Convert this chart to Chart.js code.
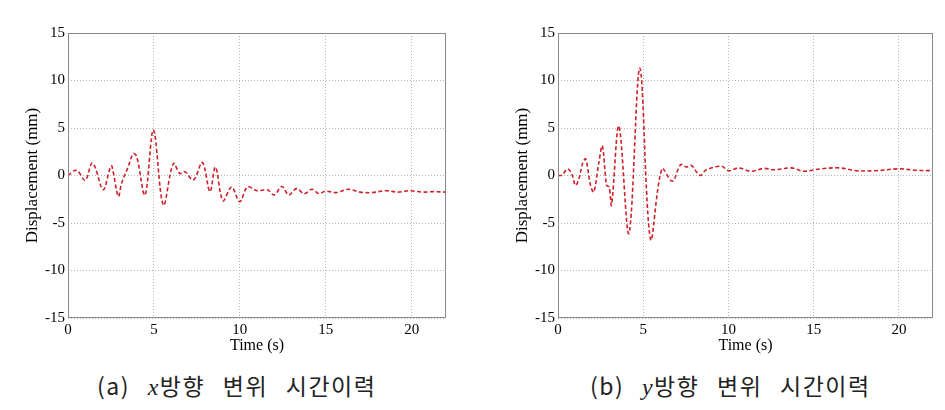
<!DOCTYPE html>
<html>
<head>
<meta charset="utf-8">
<script src="https://cdn.jsdelivr.net/npm/chart.js@4.4.0/dist/chart.umd.min.js"></script>
<style>
body { margin: 0; background: #fff; width: 945px; height: 410px; position: relative; overflow: hidden; }
canvas { position: absolute; top: 0; }
#chartX { left: 0; }
#chartY { left: 490px; }
.cap { position: absolute; top: 368px; font-family: "Noto Sans CJK KR"; font-size: 23px; color: #222; white-space: nowrap; word-spacing: 11px; letter-spacing: 1.5px; }
.cap i { font-family: "Liberation Serif"; font-size: 24px; }
</style>
</head>
<body>
<canvas id="chartX" width="472" height="360"></canvas>
<canvas id="chartY" width="455" height="360"></canvas>
<div class="cap" style="left:97px">(a) <i>x</i>방향 변위 시간이력</div>
<div class="cap" style="left:590px">(b) <i>y</i>방향 변위 시간이력</div>
<script>
// x direction displacement (mm) vs time (s)
var xTime = [0, 0.5, 1.0, 1.38, 1.57, 2.05, 2.44, 2.55, 2.93, 3.12,
             3.5, 3.8, 4.0, 4.48, 4.97, 5.55, 6.13, 6.52, 6.8, 7.3,
             7.82, 8.26, 8.58, 9.02, 9.52, 10.0, 10.45, 11.0, 11.6, 12.0,
             12.45, 12.85, 13.3, 13.75, 14.2, 14.6, 15.0, 15.6, 16.3, 17.0,
             17.7, 18.5, 19.2, 19.9, 20.6, 21.3, 22];
var xDisp = [0, 0.55, -0.5, 1.3, 0.9, -1.5, 0.75, 1.0, -2.2, -0.8,
             0.9, 2.3, 2.0, -2.05, 4.8, -3.1, 1.25, 0.2, 0.4, -0.47,
             1.37, -1.7, 0.88, -2.65, -1.22, -2.75, -1.2, -1.6, -1.5, -2.05,
             -1.15, -2.05, -1.38, -1.92, -1.45, -1.9, -1.65, -1.8, -1.45, -1.75,
             -1.8, -1.6, -1.75, -1.6, -1.75, -1.7, -1.75];

// y direction
var yTime = [0, 0.25, 0.55, 0.8, 1.03, 1.25, 1.43, 1.62, 1.91, 2.1,
             2.4, 2.6, 2.85, 3.0, 3.14, 3.57, 4.16, 4.8, 5.43, 6.1,
             6.7, 7.2, 7.54, 7.83, 8.33, 8.7, 9.6, 10.0, 10.6, 11.3,
             12.1, 12.7, 13.7, 14.4, 15.4, 16.5, 17.5, 18.6, 20.0, 21.0, 22];
var yDisp = [0, 0.05, 0.7, 0.2, -1.05, -0.2, 1.2, 1.75, -1.05, -1.75,
             1.4, 3.1, -1.05, -1.2, -3.1, 5.2, -6.1, 11.3, -6.7, 0.7,
             -0.6, 1.15, 0.9, 1.05, 0, 0.6, 0.97, 0.5, 0.8, 0.45,
             0.75, 0.6, 0.8, 0.45, 0.7, 0.8, 0.5, 0.5, 0.7, 0.55, 0.5];

var xTicks = [0, 5, 10, 15, 20];
var yTicks = [-15, -10, -5, 0, 5, 10, 15];

var serif = 'Liberation Serif';

// grey box round the plot area, like matlab
var boxPlugin = {
    id: 'box',
    afterDraw: function (chart) {
        var a = chart.chartArea;
        var ctx = chart.ctx;
        ctx.save();
        ctx.strokeStyle = '#8a8a8a';
        ctx.lineWidth = 1;
        ctx.strokeRect(Math.round(a.left) + 0.5, Math.round(a.top) + 0.5,
                       Math.round(a.right - a.left) - 1, Math.round(a.bottom - a.top) - 1);
        ctx.restore();
    }
};

function makeChart(id, times, disp, padRight) {
    var pts = [];
    for (var i in times) {
        pts.push({ x: times[i], y: disp[i] });
    }
    return new Chart(document.getElementById(id), {
        type: 'line',
        data: {
            datasets: [{
                data: pts,
                borderColor: '#d0202a',
                borderWidth: 1.6,
                borderDash: [4, 2.5],
                pointRadius: 0,
                tension: 0.35,
                fill: false
            }]
        },
        options: {
            responsive: false,
            animation: false,
            devicePixelRatio: 1,
            layout: { padding: { top: 33, right: padRight, left: 0, bottom: 0 } },
            plugins: { legend: { display: false }, tooltip: { enabled: false } },
            scales: {
                x: {
                    type: 'linear', min: 0, max: 22,
                    afterBuildTicks: function (s) { s.ticks = xTicks.map(function (v) { return { value: v }; }); },
                    afterFit: function (s) { s.height = 42; },
                    grid: { color: '#b5b5b5', drawTicks: false },
                    border: { display: false, dash: [1, 2] },
                    ticks: { font: { family: serif, size: 15 }, color: '#000', padding: 3, maxRotation: 0 },
                    title: { display: true, text: 'Time (s)', font: { family: serif, size: 16 }, color: '#000', padding: { top: 0, bottom: 5 } }
                },
                y: {
                    min: -15, max: 15,
                    afterBuildTicks: function (s) { s.ticks = yTicks.map(function (v) { return { value: v }; }); },
                    afterFit: function (s) { s.width = 68; },
                    grid: { color: '#b5b5b5', drawTicks: false },
                    border: { display: false, dash: [1, 2] },
                    ticks: { font: { family: serif, size: 15 }, color: '#000', padding: 3 },
                    title: { display: true, text: 'Displacement (mm)', font: { family: serif, size: 17 }, color: '#000', padding: { top: 22, bottom: 0 } }
                }
            }
        },
        plugins: [boxPlugin]
    });
}

makeChart('chartX', xTime, xDisp, 26);
makeChart('chartY', yTime, yDisp, 12);
</script>
</body>
</html>
